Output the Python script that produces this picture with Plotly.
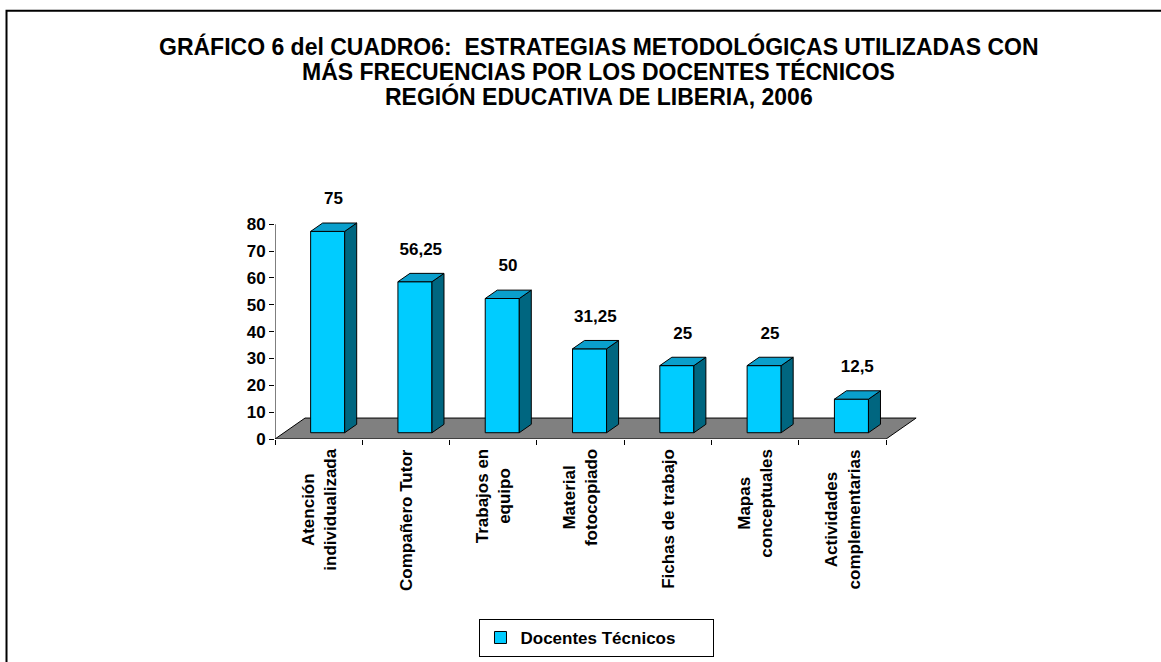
import plotly.graph_objects as go

# data
categorias = ["Atención<br>individualizada", "Compañero Tutor", "Trabajos en<br>equipo",
              "Material<br>fotocopiado", "Fichas de trabajo", "Mapas<br>conceptuales",
              "Actividades<br>complementarias"]
docentes_tecnicos = [75, 56.25, 50, 31.25, 25, 25, 12.5]
y_ticks = [0, 10, 20, 30, 40, 50, 60, 70, 80]
titulo = ["GRÁFICO 6 del CUADRO6:  ESTRATEGIAS METODOLÓGICAS UTILIZADAS CON",
          "MÁS FRECUENCIAS POR LOS DOCENTES TÉCNICOS",
          "REGIÓN EDUCATIVA DE LIBERIA, 2006"]
serie = "Docentes Técnicos"

FONT = "Liberation Sans, Arial, sans-serif"
W, H = 1161, 662
# plot area in pixels
y_range = [0, 95]
x_range = [-0.5, 6.9]
px_per_cat = 87.3
px_per_unit = 2.685
L = 275
BOT = 439
R_PX = L + (x_range[1] - x_range[0]) * px_per_cat
TOP = BOT - (y_range[1] - y_range[0]) * px_per_unit

def px_x(p):  # pixel -> paper
    return (p - L) / (R_PX - L)

def px_y(p):
    return (BOT - p) / (BOT - TOP)

# fake 3d depth (in data units)
floor_dx, floor_dy = 0.344, 7.8
front_f, back_f = 0.3, 0.7
bar_w = 0.39
fdx, fdy = floor_dx * front_f, floor_dy * front_f
ddx, ddy = floor_dx * (back_f - front_f), floor_dy * (back_f - front_f)

n = len(docentes_tecnicos)
xs = list(range(n))

fig = go.Figure()

# front faces
fig.add_trace(go.Bar(
    x=[i + fdx for i in xs], y=docentes_tecnicos, base=[fdy] * n, width=bar_w,
    marker=dict(color="#00CCFF", line=dict(color="black", width=1)),
    name=serie, hoverinfo="skip"))

# side and top faces
side_x, side_y, top_x, top_y = [], [], [], []
for i, v in zip(xs, docentes_tecnicos):
    xl = i + fdx - bar_w / 2
    xr = i + fdx + bar_w / 2
    t = fdy + v
    side_x += [xr, xr, xr + ddx, xr + ddx, xr, None]
    side_y += [fdy, t, t + ddy, fdy + ddy, fdy, None]
    top_x += [xl, xr, xr + ddx, xl + ddx, xl, None]
    top_y += [t, t, t + ddy, t + ddy, t, None]

fig.add_trace(go.Scatter(x=side_x, y=side_y, mode="lines", fill="toself",
                         fillcolor="#006680", line=dict(color="black", width=1),
                         showlegend=False, hoverinfo="skip"))
fig.add_trace(go.Scatter(x=top_x, y=top_y, mode="lines", fill="toself",
                         fillcolor="#0A9FCC", line=dict(color="black", width=1),
                         showlegend=False, hoverinfo="skip"))

# value labels
etiquetas = [("%g" % v).replace(".", ",") for v in docentes_tecnicos]
fig.add_trace(go.Scatter(
    x=[i + 0.17 for i in xs], y=[v + 14 for v in docentes_tecnicos],
    mode="text", text=etiquetas, cliponaxis=False, showlegend=False,
    textfont=dict(family=FONT, size=17, color="black", weight="bold"),
    hoverinfo="skip"))

# floor
x0, x1 = -0.5, n - 0.5
floor_path = (f"M{x0},0 L{x1},0 L{x1 + floor_dx},{floor_dy} "
              f"L{x0 + floor_dx},{floor_dy} Z")
shapes = [
    dict(type="path", path=floor_path, xref="x", yref="y", layer="below",
         fillcolor="#808080", line=dict(color="black", width=1)),
    dict(type="line", xref="x", yref="y", x0=x0, x1=x0, y0=0, y1=max(y_ticks),
         line=dict(color="black", width=1)),
    # outer frame
    dict(type="rect", xref="paper", yref="paper", x0=px_x(6.5), x1=px_x(W + 40),
         y0=px_y(H + 40), y1=px_y(10.5), line=dict(color="black", width=2)),
]

annotations = []
for line, py in zip(titulo, [46, 71, 96]):
    annotations.append(dict(
        text=line, xref="paper", yref="paper", x=px_x(599), y=px_y(py),
        xanchor="center", yanchor="middle", showarrow=False,
        font=dict(family=FONT, size=23, color="black", weight="bold")))

for i, c in zip(xs, categorias):
    annotations.append(dict(
        text=c, xref="x", yref="y", x=i, y=0, yshift=-8,
        xanchor="center", yanchor="top", textangle=-90, align="center",
        showarrow=False, font=dict(family=FONT, size=17, color="black", weight="bold")))

fig.update_layout(
    width=W, height=H,
    margin=dict(l=L, r=W - R_PX, t=TOP, b=H - BOT, pad=0, autoexpand=False),
    paper_bgcolor="white", plot_bgcolor="white",
    showlegend=True,
    legend=dict(orientation="h", x=px_x(597), y=px_y(619), xanchor="center",
                yanchor="top", bordercolor="black", borderwidth=1,
                font=dict(family=FONT, size=17, color="black", weight="bold"),
                itemwidth=30, entrywidth=188, entrywidthmode="pixels"),
    xaxis=dict(range=x_range, tickvals=[i - 0.5 for i in range(n + 1)],
               showticklabels=False, ticks="outside", ticklen=5, tickcolor="black",
               showgrid=False, zeroline=False, showline=False, fixedrange=True),
    yaxis=dict(range=y_range, tickvals=y_ticks, ticks="outside", ticklen=5,
               tickcolor="black", showgrid=False, zeroline=False, showline=False,
               tickfont=dict(family=FONT, size=17, color="black", weight="bold"),
               fixedrange=True),
    shapes=shapes, annotations=annotations,
)

# drop the default page margin so the figure sits at the window corner
fig.write_html("out.html", config={"displayModeBar": False},
               post_script="document.body.style.margin='0';")
